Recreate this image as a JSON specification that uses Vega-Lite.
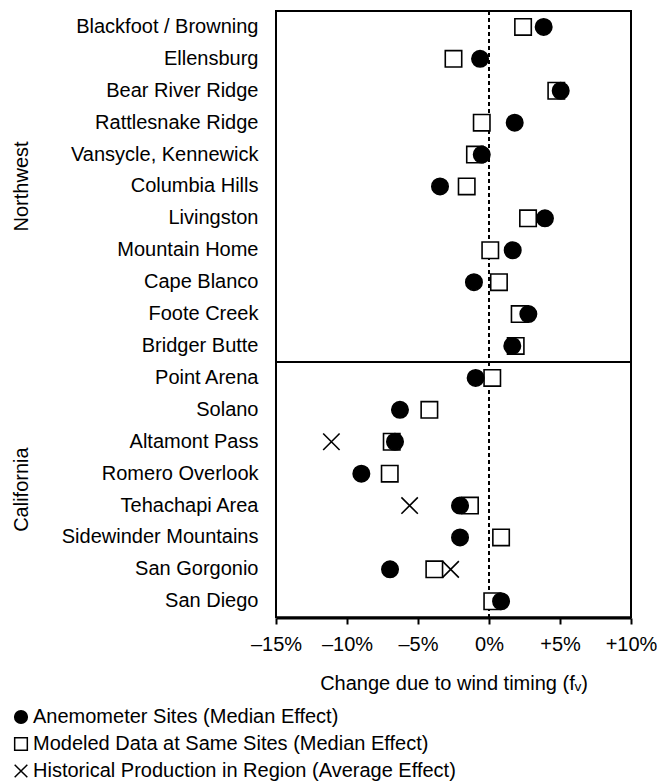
{
  "$schema": "https://vega.github.io/schema/vega-lite/v6.json",
  "background": "white",
  "padding": {"left": 11, "top": 9, "right": 2, "bottom": 2},
  "bounds": "flush",
  "data": {
    "values": [
      {"site": "Blackfoot / Browning", "region": "Northwest", "series": "Modeled Data at Same Sites (Median Effect)", "value": 2.4},
      {"site": "Blackfoot / Browning", "region": "Northwest", "series": "Anemometer Sites (Median Effect)", "value": 3.85},
      {"site": "Ellensburg", "region": "Northwest", "series": "Modeled Data at Same Sites (Median Effect)", "value": -2.5},
      {"site": "Ellensburg", "region": "Northwest", "series": "Anemometer Sites (Median Effect)", "value": -0.63},
      {"site": "Bear River Ridge", "region": "Northwest", "series": "Modeled Data at Same Sites (Median Effect)", "value": 4.74},
      {"site": "Bear River Ridge", "region": "Northwest", "series": "Anemometer Sites (Median Effect)", "value": 5.05},
      {"site": "Rattlesnake Ridge", "region": "Northwest", "series": "Modeled Data at Same Sites (Median Effect)", "value": -0.51},
      {"site": "Rattlesnake Ridge", "region": "Northwest", "series": "Anemometer Sites (Median Effect)", "value": 1.81},
      {"site": "Vansycle, Kennewick", "region": "Northwest", "series": "Modeled Data at Same Sites (Median Effect)", "value": -0.99},
      {"site": "Vansycle, Kennewick", "region": "Northwest", "series": "Anemometer Sites (Median Effect)", "value": -0.51},
      {"site": "Columbia Hills", "region": "Northwest", "series": "Modeled Data at Same Sites (Median Effect)", "value": -1.57},
      {"site": "Columbia Hills", "region": "Northwest", "series": "Anemometer Sites (Median Effect)", "value": -3.45},
      {"site": "Livingston", "region": "Northwest", "series": "Modeled Data at Same Sites (Median Effect)", "value": 2.75},
      {"site": "Livingston", "region": "Northwest", "series": "Anemometer Sites (Median Effect)", "value": 3.94},
      {"site": "Mountain Home", "region": "Northwest", "series": "Modeled Data at Same Sites (Median Effect)", "value": 0.09},
      {"site": "Mountain Home", "region": "Northwest", "series": "Anemometer Sites (Median Effect)", "value": 1.67},
      {"site": "Cape Blanco", "region": "Northwest", "series": "Modeled Data at Same Sites (Median Effect)", "value": 0.7},
      {"site": "Cape Blanco", "region": "Northwest", "series": "Anemometer Sites (Median Effect)", "value": -1.06},
      {"site": "Foote Creek", "region": "Northwest", "series": "Modeled Data at Same Sites (Median Effect)", "value": 2.16},
      {"site": "Foote Creek", "region": "Northwest", "series": "Anemometer Sites (Median Effect)", "value": 2.77},
      {"site": "Bridger Butte", "region": "Northwest", "series": "Modeled Data at Same Sites (Median Effect)", "value": 1.88},
      {"site": "Bridger Butte", "region": "Northwest", "series": "Anemometer Sites (Median Effect)", "value": 1.64},
      {"site": "Point Arena", "region": "California", "series": "Modeled Data at Same Sites (Median Effect)", "value": 0.23},
      {"site": "Point Arena", "region": "California", "series": "Anemometer Sites (Median Effect)", "value": -0.94},
      {"site": "Solano", "region": "California", "series": "Modeled Data at Same Sites (Median Effect)", "value": -4.2},
      {"site": "Solano", "region": "California", "series": "Anemometer Sites (Median Effect)", "value": -6.27},
      {"site": "Altamont Pass", "region": "California", "series": "Modeled Data at Same Sites (Median Effect)", "value": -6.85},
      {"site": "Altamont Pass", "region": "California", "series": "Anemometer Sites (Median Effect)", "value": -6.62},
      {"site": "Altamont Pass", "region": "California", "series": "Historical Production in Region (Average Effect)", "value": -11.1},
      {"site": "Romero Overlook", "region": "California", "series": "Modeled Data at Same Sites (Median Effect)", "value": -6.99},
      {"site": "Romero Overlook", "region": "California", "series": "Anemometer Sites (Median Effect)", "value": -8.99},
      {"site": "Tehachapi Area", "region": "California", "series": "Modeled Data at Same Sites (Median Effect)", "value": -1.34},
      {"site": "Tehachapi Area", "region": "California", "series": "Anemometer Sites (Median Effect)", "value": -2.04},
      {"site": "Tehachapi Area", "region": "California", "series": "Historical Production in Region (Average Effect)", "value": -5.59},
      {"site": "Sidewinder Mountains", "region": "California", "series": "Modeled Data at Same Sites (Median Effect)", "value": 0.85},
      {"site": "Sidewinder Mountains", "region": "California", "series": "Anemometer Sites (Median Effect)", "value": -2.04},
      {"site": "San Gorgonio", "region": "California", "series": "Modeled Data at Same Sites (Median Effect)", "value": -3.85},
      {"site": "San Gorgonio", "region": "California", "series": "Anemometer Sites (Median Effect)", "value": -6.97},
      {"site": "San Gorgonio", "region": "California", "series": "Historical Production in Region (Average Effect)", "value": -2.7},
      {"site": "San Diego", "region": "California", "series": "Modeled Data at Same Sites (Median Effect)", "value": 0.23},
      {"site": "San Diego", "region": "California", "series": "Anemometer Sites (Median Effect)", "value": 0.85}
    ]
  },
  "facet": {
    "row": {
      "field": "region",
      "type": "nominal",
      "sort": ["Northwest", "California"],
      "title": null,
      "header": {
        "labelAngle": -90,
        "labelOrient": "left",
        "labelFontSize": 20,
        "labelFont": "Liberation Sans",
        "labelColor": "black",
        "labelPadding": 234
      }
    }
  },
  "spacing": {"row": 0},
  "resolve": {"scale": {"y": "independent"}},
  "spec": {
    "width": 355,
    "height": {"step": 31.9},
    "layer": [
      {
        "transform": [{"aggregate": [{"op": "count", "as": "n"}], "groupby": ["region"]}],
        "mark": {"type": "rule", "stroke": "black", "strokeWidth": 2, "strokeDash": [4, 3]},
        "encoding": {"x": {"datum": 0, "type": "quantitative"}}
      },
      {
        "mark": {"type": "point", "filled": true, "stroke": "black", "strokeWidth": 1.6, "opacity": 1, "size": 270},
        "encoding": {
          "y": {
            "field": "site",
            "type": "nominal",
            "sort": null,
            "title": null,
            "scale": {"type": "band", "paddingInner": 0, "paddingOuter": 0},
            "axis": {"ticks": false, "domain": false, "labelFontSize": 20, "labelFont": "Liberation Sans", "labelColor": "black", "labelPadding": 18, "labelLimit": 400}
          },
          "x": {
            "field": "value",
            "type": "quantitative",
            "scale": {"domain": [-15, 10], "nice": false, "zero": false},
            "title": "Change due to wind timing (fᵥ)",
            "axis": {
              "values": [-15, -10, -5, 0, 5, 10],
              "labelExpr": "datum.value > 0 ? '+' + datum.value + '%' : (datum.value < 0 ? '–' + abs(datum.value) + '%' : '0%')",
              "grid": false,
              "domain": true,
              "domainColor": "black",
              "domainWidth": 2,
              "ticks": true,
              "tickColor": "black",
              "tickWidth": 2,
              "tickSize": 6,
              "labelFontSize": 20,
              "labelFont": "Liberation Sans",
              "labelColor": "black",
              "labelPadding": 10,
              "labelFlush": false,
              "titleFontSize": 20,
              "titleFont": "Liberation Sans",
              "titleFontWeight": "normal",
              "titleColor": "black",
              "titlePadding": 19
            }
          },
          "shape": {
            "field": "series",
            "type": "nominal",
            "scale": {
              "domain": ["Anemometer Sites (Median Effect)", "Modeled Data at Same Sites (Median Effect)", "Historical Production in Region (Average Effect)"],
              "range": ["circle", "square", "M-1,-1L1,1M-1,1L1,-1"]
            },
            "legend": {
              "title": null,
              "orient": "none",
              "legendX": -265,
              "legendY": 696,
              "padding": 0,
              "direction": "vertical",
              "labelFontSize": 20,
              "labelFont": "Liberation Sans",
              "labelColor": "black",
              "symbolSize": 160,
              "rowPadding": 7,
              "labelOffset": 2,
              "labelLimit": 700,
              "encode": {
                "symbols": {
                  "update": {
                    "stroke": {"value": "black"},
                    "strokeWidth": {"value": 1.3}
                  }
                }
              }
            }
          },
          "fill": {
            "field": "series",
            "type": "nominal",
            "scale": {
              "domain": ["Anemometer Sites (Median Effect)", "Modeled Data at Same Sites (Median Effect)", "Historical Production in Region (Average Effect)"],
              "range": ["black", "white", "transparent"]
            }
          }
        }
      }
    ]
  },
  "config": {
    "font": "Liberation Sans",
    "view": {"stroke": "black", "strokeWidth": 2}
  }
}
